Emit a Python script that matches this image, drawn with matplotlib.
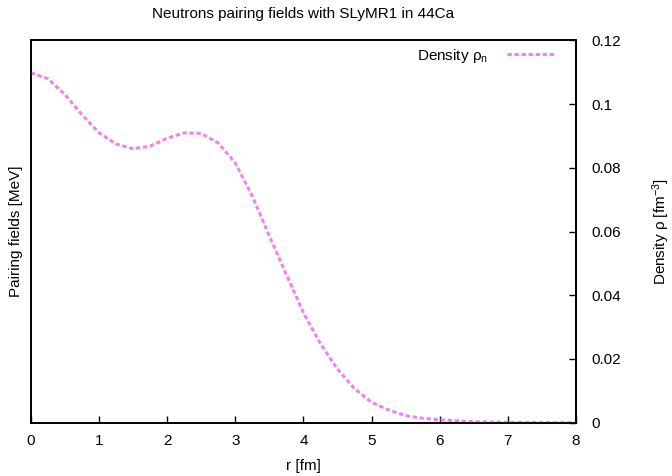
import matplotlib
matplotlib.use("Agg")
import matplotlib.pyplot as plt
from matplotlib.ticker import FuncFormatter

plt.rcParams['font.family'] = ['Liberation Sans', 'DejaVu Sans']
plt.rcParams['mathtext.fontset'] = 'custom'
plt.rcParams['mathtext.rm'] = 'Liberation Sans'
plt.rcParams['mathtext.it'] = 'Liberation Sans'

# neutron density
r = [0, 0.25, 0.5, 0.75, 1.0, 1.25, 1.5, 1.75, 2.0, 2.25, 2.5, 2.75,
     3.0, 3.25, 3.5, 3.75, 4.0, 4.25, 4.5, 4.75, 5.0, 5.25, 5.5, 5.75,
     6.0, 6.5, 7.0, 7.5, 8.0]
rho_n = [0.1098, 0.1080, 0.1030, 0.0967, 0.0910, 0.0875, 0.0860, 0.0868,
         0.0893, 0.0910, 0.0908, 0.0878, 0.0815, 0.0711, 0.0586, 0.0465,
         0.0345, 0.0248, 0.0168, 0.0107, 0.0064, 0.0040, 0.0022, 0.0014,
         0.0009, 0.0003, 0.0001, 0.00004, 0.00001]
x_ticks = [0, 1, 2, 3, 4, 5, 6, 7, 8]
y_ticks = [0, 0.02, 0.04, 0.06, 0.08, 0.1, 0.12]

fs = 11

fig = plt.figure(figsize=(6.72, 4.76), dpi=100)
ax = fig.add_axes([0.046, 0.112, 0.811, 0.803])
ax2 = ax.twinx()

ax2.plot(r, rho_n, color='#ee82ee', linewidth=2.2, dashes=(1.4, 0.9),
         label=r'Density $\rho_\mathrm{n}$')

ax.set_xlim(0, 8)
ax.set_xticks(x_ticks)
ax.set_yticks([])
ax2.set_ylim(0, 0.12)
ax2.set_yticks(y_ticks)
ax2.yaxis.set_major_formatter(FuncFormatter(lambda v, p: '%g' % v))

ax.tick_params(axis='x', direction='in', length=5, width=1, labelsize=fs, pad=8, top=False)
ax2.tick_params(axis='y', direction='in', length=5, width=1, labelsize=fs, pad=11)
for a in (ax, ax2):
    for s in a.spines.values():
        s.set_linewidth(1.2)

ax.set_xlabel('r [fm]', fontsize=fs, labelpad=8)
ax.set_ylabel('Pairing fields [MeV]', fontsize=fs, labelpad=6)
ax2.set_ylabel(r'Density $\rho$ [fm$^{-3}$]', fontsize=fs, labelpad=21)
ax.set_title('Neutrons pairing fields with SLyMR1 in 44Ca', fontsize=fs, pad=16)

ax2.legend(loc='upper right', bbox_to_anchor=(0.974, 1.0), borderaxespad=0,
           frameon=False, markerfirst=False, fontsize=fs,
           handlelength=3.2, handletextpad=1.2)

fig.savefig('out.png', dpi=100)
